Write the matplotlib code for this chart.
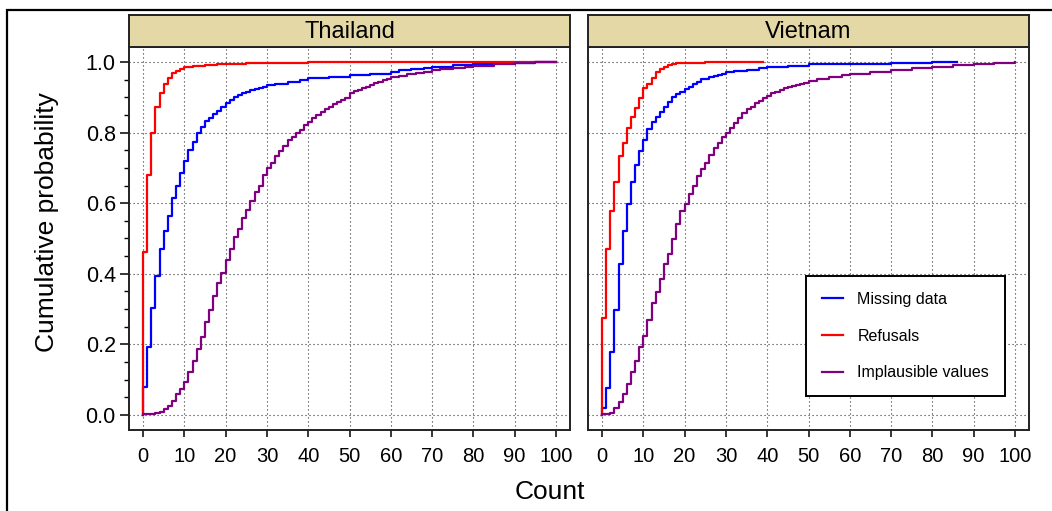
import matplotlib
matplotlib.use("Agg")
import matplotlib.pyplot as plt
from matplotlib.patches import Rectangle
from matplotlib.ticker import MultipleLocator

plt.rcParams['font.family'] = ['Liberation Sans', 'DejaVu Sans']

countries = ["Thailand", "Vietnam"]
series_names = ["Missing data", "Refusals", "Implausible values"]
series_colors = ["#0000FF", "#FF0000", "#800080"]

# ECDF values: count -> cumulative probability
th_missing_count = [0, 1, 2, 3, 4, 5, 6, 7, 8, 9, 10, 11, 12, 13, 14, 15, 16, 17, 18, 19, 20,
                    21, 22, 23, 24, 25, 26, 27, 28, 29, 30, 32, 35, 38, 40, 45, 50, 55, 60,
                    62, 65, 68, 70, 75, 80, 85, 90, 95, 100]
th_missing_prob = [0.08, 0.193, 0.303, 0.395, 0.47, 0.521, 0.565, 0.614, 0.65, 0.685, 0.72,
                   0.75, 0.772, 0.80, 0.817, 0.833, 0.84, 0.853, 0.862, 0.873, 0.885,
                   0.893, 0.90, 0.906, 0.911, 0.915, 0.92, 0.924, 0.927, 0.93, 0.935,
                   0.938, 0.944, 0.95, 0.954, 0.957, 0.963, 0.966, 0.971,
                   0.976, 0.98, 0.984, 0.987, 0.991, 0.994, 0.996, 0.997, 0.999, 1.0]

th_refusal_count = [0, 1, 2, 3, 4, 5, 6, 7, 8, 9, 10, 11, 12, 13, 15, 18, 20, 25, 30, 35, 40, 50, 100]
th_refusal_prob = [0.463, 0.68, 0.798, 0.873, 0.913, 0.937, 0.956, 0.968, 0.975, 0.98, 0.985,
                   0.987, 0.989, 0.99, 0.992, 0.994, 0.995, 0.996, 0.997, 0.998, 0.999, 1.0, 1.0]

th_implaus_count = [0, 1, 2, 3, 4, 5, 6, 7, 8, 9, 10, 11, 12, 13, 14, 15, 16, 17, 18, 19, 20,
                    21, 22, 23, 24, 25, 26, 27, 28, 29, 30, 31, 32, 33, 34, 35, 36, 37, 38, 39, 40,
                    41, 42, 43, 44, 45, 46, 47, 48, 49, 50, 51, 52, 53, 54, 55, 56, 57, 58, 59, 60,
                    62, 64, 66, 68, 70, 72, 75, 78, 80, 85, 90, 95, 100]
th_implaus_prob = [0.002, 0.003, 0.004, 0.005, 0.008, 0.016, 0.026, 0.041, 0.059, 0.075, 0.094,
                   0.121, 0.153, 0.188, 0.222, 0.263, 0.297, 0.338, 0.375, 0.401, 0.439,
                   0.47, 0.503, 0.526, 0.557, 0.581, 0.607, 0.633, 0.65, 0.68, 0.699,
                   0.713, 0.734, 0.748, 0.762, 0.779, 0.788, 0.798, 0.807, 0.822, 0.831,
                   0.84, 0.85, 0.859, 0.867, 0.873, 0.88, 0.887, 0.892, 0.899, 0.911,
                   0.918, 0.92, 0.925, 0.93, 0.935, 0.94, 0.944, 0.949, 0.953, 0.957,
                   0.961, 0.965, 0.969, 0.973, 0.977, 0.98, 0.984, 0.987, 0.99, 0.994, 0.997, 0.999, 1.0]

vn_missing_count = [0, 1, 2, 3, 4, 5, 6, 7, 8, 9, 10, 11, 12, 13, 14, 15, 16, 17, 18, 19, 20,
                    21, 22, 23, 24, 25, 26, 27, 28, 29, 30, 32, 35, 38, 40, 45, 50, 60, 70, 80, 86]
vn_missing_prob = [0.021, 0.077, 0.179, 0.297, 0.428, 0.521, 0.598, 0.659, 0.708, 0.748, 0.779,
                   0.809, 0.831, 0.843, 0.859, 0.873, 0.888, 0.90, 0.909, 0.916, 0.923,
                   0.93, 0.937, 0.942, 0.951, 0.953, 0.958, 0.961, 0.964, 0.966, 0.971,
                   0.975, 0.978, 0.982, 0.985, 0.99, 0.993, 0.995, 0.997, 0.999, 1.0]

vn_refusal_count = [0, 1, 2, 3, 4, 5, 6, 7, 8, 9, 10, 11, 12, 13, 14, 15, 16, 17, 18, 19, 20, 25, 30, 39]
vn_refusal_prob = [0.274, 0.47, 0.579, 0.661, 0.734, 0.77, 0.812, 0.843, 0.869, 0.899, 0.925,
                   0.939, 0.956, 0.971, 0.98, 0.987, 0.991, 0.994, 0.996, 0.997, 0.998, 0.999, 1.0, 1.0]

vn_implaus_count = [0, 1, 2, 3, 4, 5, 6, 7, 8, 9, 10, 11, 12, 13, 14, 15, 16, 17, 18, 19, 20,
                    21, 22, 23, 24, 25, 26, 27, 28, 29, 30, 31, 32, 33, 34, 35, 36, 37, 38, 39, 40,
                    41, 42, 43, 44, 45, 46, 47, 48, 49, 50, 52, 55, 58, 60, 65, 70, 75, 80, 85, 90, 95, 100]
vn_implaus_prob = [0.002, 0.003, 0.007, 0.021, 0.038, 0.059, 0.088, 0.121, 0.154, 0.193, 0.224,
                   0.269, 0.316, 0.349, 0.384, 0.428, 0.455, 0.499, 0.54, 0.578, 0.598,
                   0.626, 0.65, 0.677, 0.696, 0.715, 0.737, 0.755, 0.77, 0.787, 0.80,
                   0.814, 0.828, 0.84, 0.855, 0.867, 0.873, 0.883, 0.89, 0.899, 0.904,
                   0.911, 0.916, 0.92, 0.925, 0.928, 0.932, 0.935, 0.937, 0.94, 0.947,
                   0.951, 0.957, 0.962, 0.965, 0.971, 0.977, 0.982, 0.987, 0.991, 0.994, 0.997, 1.0]

panel_data = {
    "Thailand": [(th_missing_count, th_missing_prob), (th_refusal_count, th_refusal_prob),
                 (th_implaus_count, th_implaus_prob)],
    "Vietnam": [(vn_missing_count, vn_missing_prob), (vn_refusal_count, vn_refusal_prob),
                (vn_implaus_count, vn_implaus_prob)],
}

W, H = 1052, 511
fig = plt.figure(figsize=(W / 100, H / 100), dpi=100)

# outer frame (runs off the right and bottom of the picture)
fig.add_artist(Rectangle((7 / W, -0.2), 1.5, 1.2 - 10 / H, transform=fig.transFigure,
                         fill=False, edgecolor='black', linewidth=1.6))

panel_left = [129, 588]
panel_w = 441
top_px, bottom_px = 47, 430
strip_top = 15

axes = []
for i, country in enumerate(countries):
    x0 = panel_left[i]
    ax = fig.add_axes([x0 / W, 1 - bottom_px / H, panel_w / W, (bottom_px - top_px) / H])
    axes.append(ax)

    # the three ECDF step lines, start with a vertical from 0
    lines = []
    for (cnt, prob), name, col in zip(panel_data[country], series_names, series_colors):
        ln, = ax.step([cnt[0]] + cnt, [0] + prob, where='post', color=col, lw=1.6, label=name)
        lines.append(ln)

    ax.set_xlim(-3.4, 103.4)
    ax.set_ylim(-0.0425, 1.0425)
    ax.xaxis.set_major_locator(MultipleLocator(10))
    ax.yaxis.set_major_locator(MultipleLocator(0.2))
    ax.grid(True, which='major', color='#333333', linestyle=(0, (1, 2.6)), linewidth=0.8)
    ax.tick_params(axis='x', direction='out', length=5, width=1.1, pad=7, labelsize=14.5)
    for sp in ax.spines.values():
        sp.set_linewidth(1.4)
        sp.set_color('#222222')
    if i == 0:
        ax.yaxis.set_minor_locator(MultipleLocator(0.05))
        ax.tick_params(axis='y', which='major', direction='out', length=6.5, width=1.1,
                       pad=3, labelsize=15.5)
        ax.tick_params(axis='y', which='minor', direction='out', length=3.6, width=1.0)
        ax.set_yticks([0, 0.2, 0.4, 0.6, 0.8, 1.0])
        ax.set_yticklabels(["0.0", "0.2", "0.4", "0.6", "0.8", "1.0"])
    else:
        ax.tick_params(axis='y', left=False, labelleft=False)

    # strip with the country name
    sax = fig.add_axes([x0 / W, 1 - top_px / H, panel_w / W, (top_px - strip_top) / H])
    sax.set_facecolor('#E3D8A6')
    sax.set_xticks([])
    sax.set_yticks([])
    for sp in sax.spines.values():
        sp.set_linewidth(1.4)
        sp.set_color('#222222')
    sax.text(0.5, 0.47, country, ha='center', va='center', fontsize=17, transform=sax.transAxes)

leg = axes[1].legend(handles=lines, loc='upper left', bbox_to_anchor=(806 / W, 1 - 276 / H),
                     bbox_transform=fig.transFigure, borderaxespad=0, fontsize=11.5,
                     frameon=True, fancybox=False, framealpha=1, edgecolor='black',
                     borderpad=1.0, labelspacing=1.36, handlelength=1.32, handletextpad=0.9)
leg.get_frame().set_linewidth(1.4)

fig.text(550 / W, 1 - 492 / H, "Count", ha='center', va='center', fontsize=19)
fig.text(47 / W, 1 - 222 / H, "Cumulative probability", ha='center', va='center',
         rotation=90, fontsize=19)

fig.savefig("out.png", dpi=100)
